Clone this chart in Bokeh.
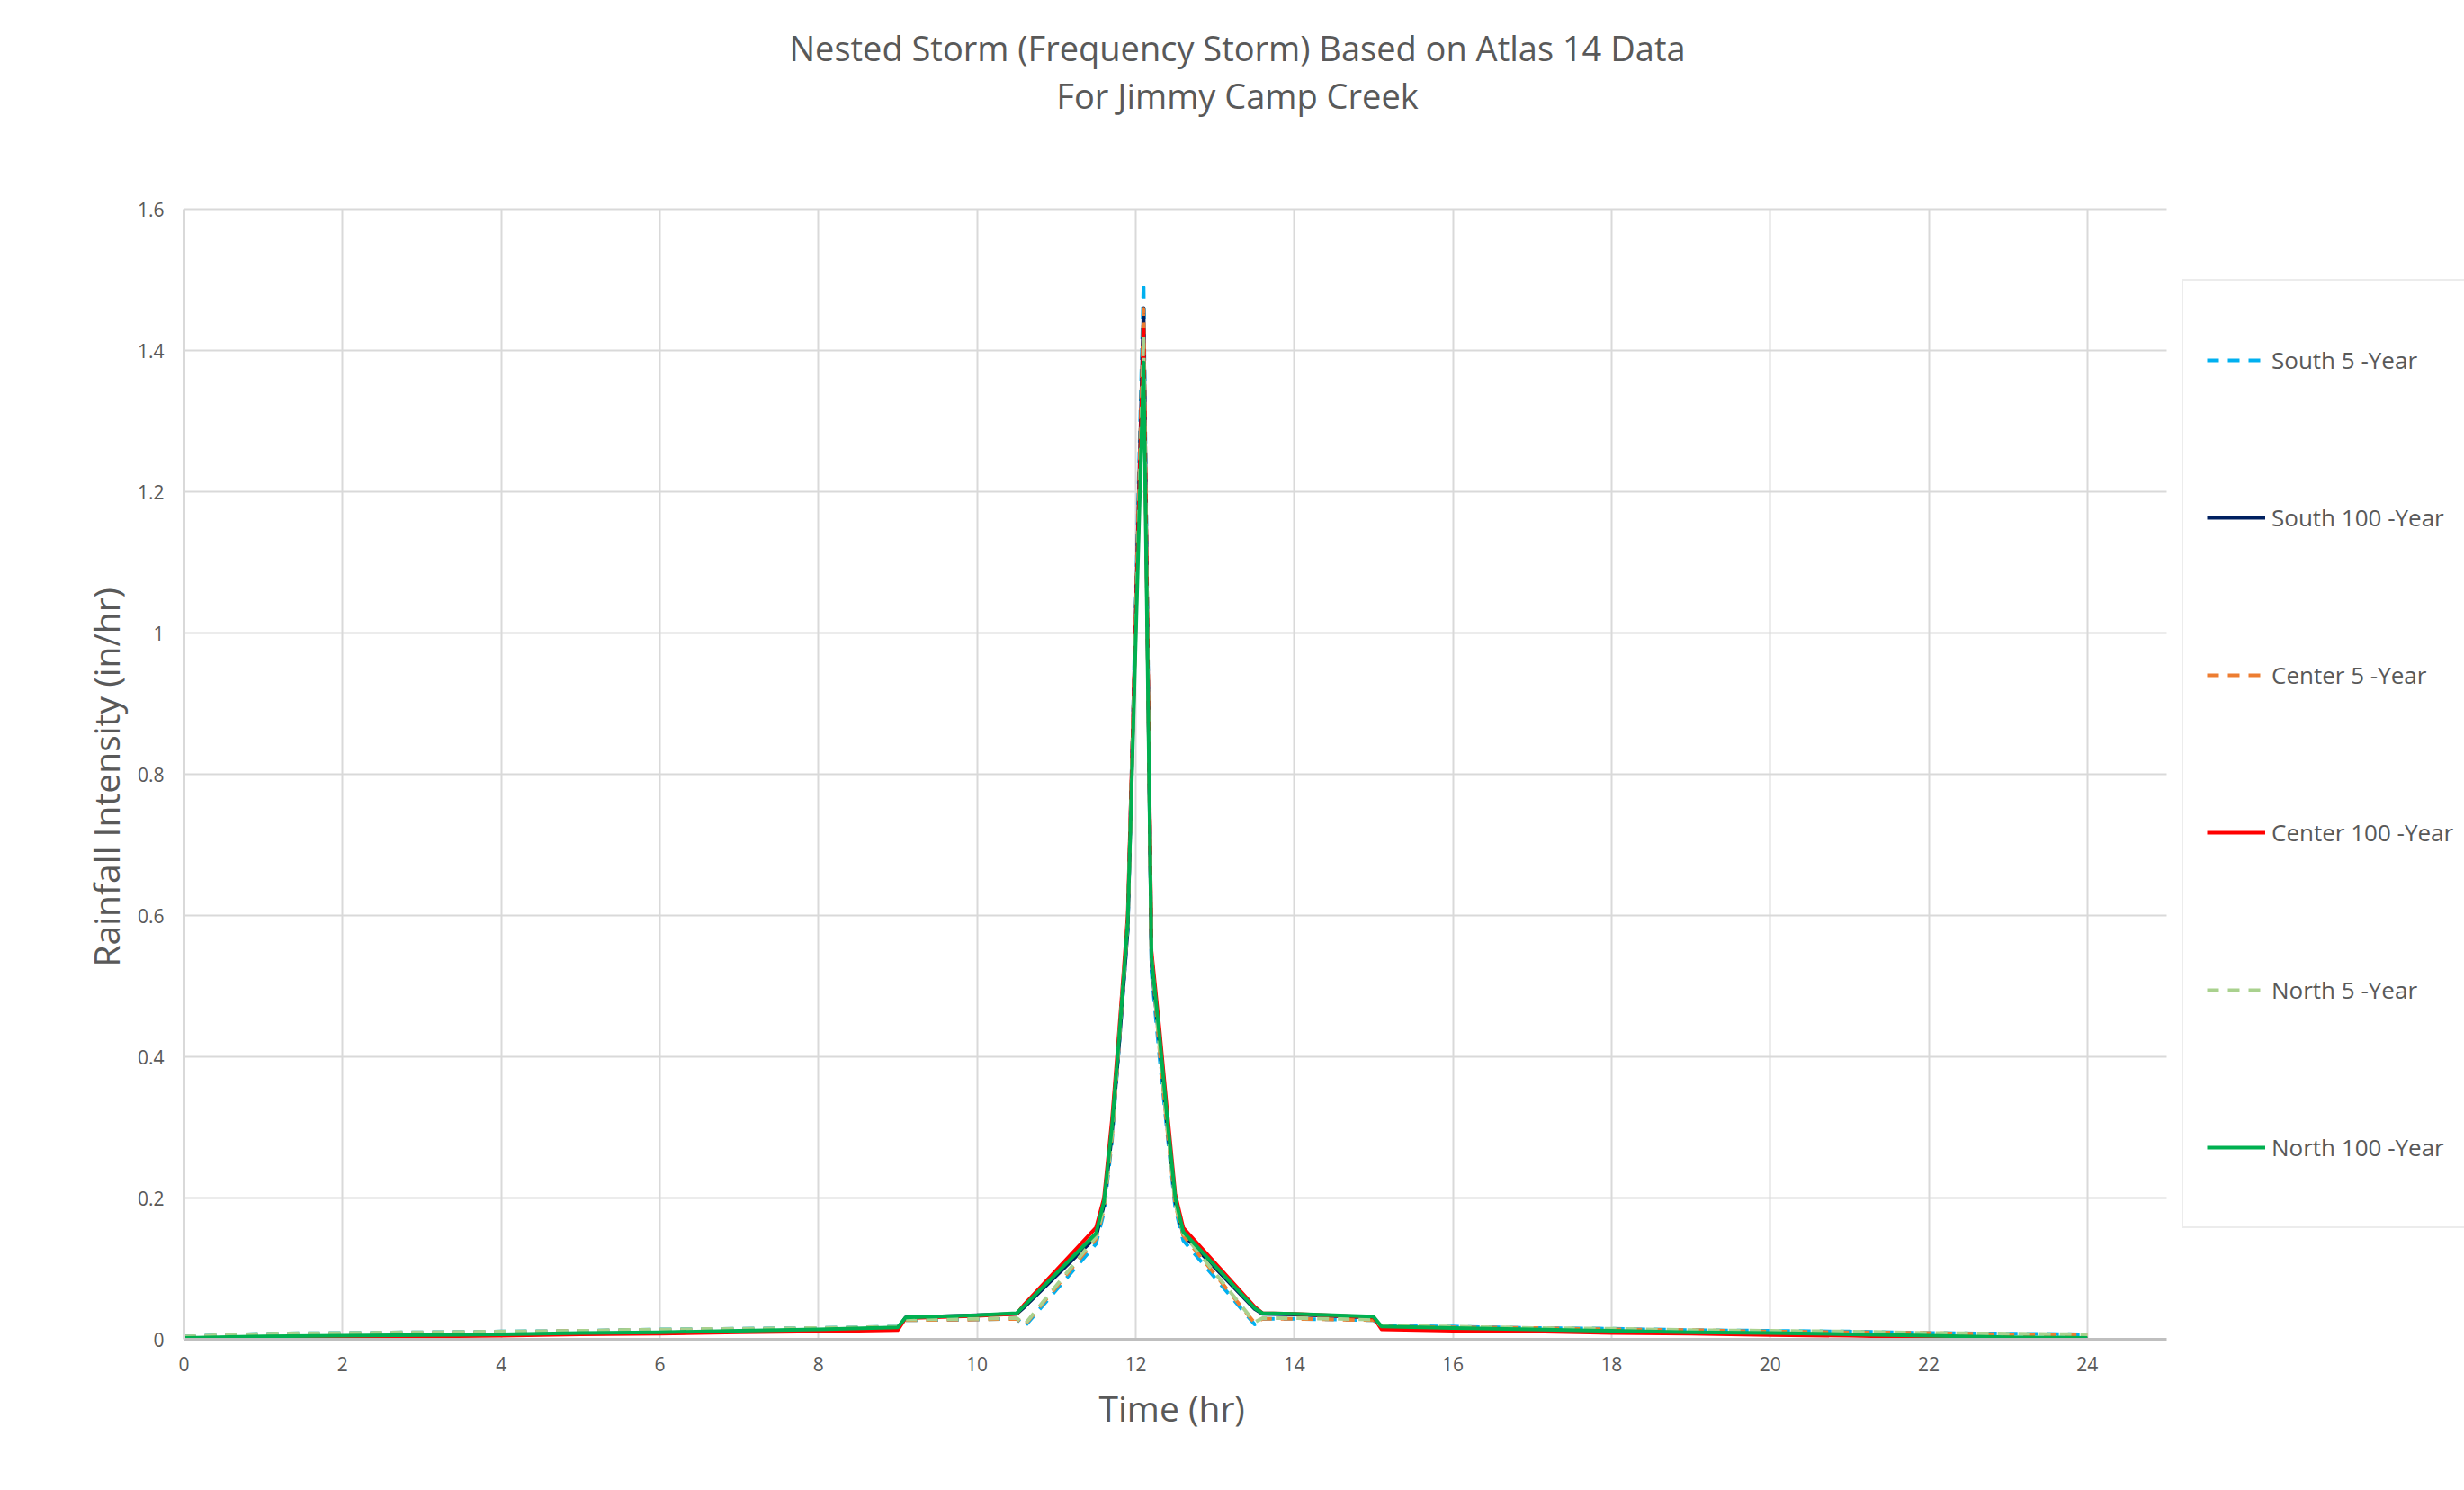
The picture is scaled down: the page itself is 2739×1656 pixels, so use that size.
from bokeh.plotting import figure
from bokeh.models import Range1d, FixedTicker, Legend, LegendItem, Label, Title
from bokeh.embed import file_html
from bokeh.resources import INLINE

# ---- data ----
time_hr = [0, 1, 2, 3, 4, 5, 6, 7, 8, 9, 9.1, 10, 10.5, 10.6, 11.5, 11.6, 11.7, 11.8, 11.9,
           12.1, 12.2, 12.3, 12.4, 12.5, 12.6, 13.5, 13.6, 14, 15, 15.1, 16, 17, 18, 19, 20,
           21, 22, 23, 24]

south_5 = [0.004, 0.008, 0.009, 0.010, 0.011, 0.012, 0.014, 0.015, 0.016, 0.018, 0.027, 0.028,
           0.029, 0.018, 0.135, 0.180, 0.280, 0.430, 0.580, 1.497, 0.520, 0.400, 0.290, 0.185,
           0.140, 0.021, 0.029, 0.029, 0.027, 0.019, 0.018, 0.016, 0.015, 0.013, 0.012, 0.011,
           0.009, 0.008, 0.007]
south_100 = [0.001, 0.003, 0.004, 0.005, 0.006, 0.008, 0.009, 0.011, 0.013, 0.015, 0.031, 0.034,
             0.036, 0.046, 0.145, 0.190, 0.290, 0.430, 0.580, 1.460, 0.530, 0.420, 0.300, 0.195,
             0.148, 0.043, 0.036, 0.035, 0.031, 0.016, 0.014, 0.013, 0.011, 0.009, 0.008, 0.006,
             0.004, 0.002, 0.001]
center_5 = [0.003, 0.007, 0.008, 0.009, 0.010, 0.012, 0.013, 0.014, 0.015, 0.017, 0.027, 0.028,
            0.029, 0.020, 0.142, 0.185, 0.285, 0.435, 0.590, 1.459, 0.545, 0.410, 0.295, 0.190,
            0.147, 0.023, 0.029, 0.029, 0.027, 0.018, 0.017, 0.016, 0.014, 0.013, 0.011, 0.010,
            0.009, 0.007, 0.006]
center_100 = [0.000, 0.002, 0.003, 0.004, 0.005, 0.007, 0.008, 0.010, 0.011, 0.013, 0.030, 0.033,
              0.036, 0.050, 0.158, 0.200, 0.310, 0.450, 0.600, 1.430, 0.550, 0.440, 0.320, 0.205,
              0.158, 0.046, 0.037, 0.036, 0.031, 0.014, 0.012, 0.011, 0.009, 0.008, 0.006, 0.005,
              0.003, 0.001, 0.000]
north_5 = [0.004, 0.008, 0.009, 0.010, 0.011, 0.012, 0.014, 0.015, 0.016, 0.018, 0.028, 0.029,
           0.030, 0.021, 0.145, 0.188, 0.290, 0.440, 0.590, 1.420, 0.540, 0.415, 0.300, 0.192,
           0.150, 0.024, 0.030, 0.030, 0.028, 0.019, 0.018, 0.016, 0.015, 0.013, 0.012, 0.011,
           0.009, 0.008, 0.007]
north_100 = [0.002, 0.004, 0.005, 0.006, 0.007, 0.009, 0.010, 0.012, 0.014, 0.017, 0.031, 0.034,
             0.037, 0.048, 0.150, 0.195, 0.300, 0.440, 0.590, 1.383, 0.540, 0.430, 0.310, 0.200,
             0.152, 0.044, 0.037, 0.036, 0.032, 0.018, 0.016, 0.014, 0.012, 0.010, 0.009, 0.007,
             0.005, 0.003, 0.002]

series_names = ["South 5 -Year", "South 100 -Year", "Center 5 -Year",
                "Center 100 -Year", "North 5 -Year", "North 100 -Year"]
series_values = [south_5, south_100, center_5, center_100, north_5, north_100]
series_colors = ["#00B0F0", "#002060", "#ED7D31", "#FF0000", "#A9D18E", "#00B050"]
series_dashed = [True, False, True, False, True, False]

x_min, x_max = 0, 25
y_min, y_max = 0, 1.6
x_ticks = [0, 2, 4, 6, 8, 10, 12, 14, 16, 18, 20, 22, 24]
y_ticks = [0, 0.2, 0.4, 0.6, 0.8, 1.0, 1.2, 1.4, 1.6]
y_tick_labels = ["0", "0.2", "0.4", "0.6", "0.8", "1", "1.2", "1.4", "1.6"]

title_line1 = "Nested Storm (Frequency Storm) Based on Atlas 14 Data"
title_line2 = "For Jimmy Camp Creek"
x_title = "Time (hr)"
y_title = "Rainfall Intensity (in/hr)"

# ---- layout in pixels ----
W, H = 2739, 1656
PL, PR, PT, PB = 204, 2408, 232, 1488      # plot area of the axes
GRID = "#D9D9D9"
TXT = "#595959"
FONT = "Open Sans"

# the drawing frame spans to the right and top edges of the canvas so that the
# title and the legend (which sit outside the axes area) are not clipped
px_x = (PR - PL) / (x_max - x_min)
px_y = (PB - PT) / (y_max - y_min)
xr_end = x_min + (W - PL) / px_x
yr_end = y_min + PB / px_y

p = figure(width=W, height=H, output_backend="svg", toolbar_location=None,
           title=None,
           x_range=Range1d(x_min, xr_end), y_range=Range1d(y_min, yr_end),
           min_border_left=PL, min_border_right=0,
           min_border_top=0, min_border_bottom=H - PB)
p.outline_line_color = None
p.background_fill_color = "white"
p.border_fill_color = "white"

p.xaxis.ticker = FixedTicker(ticks=x_ticks)
p.yaxis.ticker = FixedTicker(ticks=y_ticks)
p.yaxis.major_label_overrides = dict(zip(y_ticks, y_tick_labels))
p.xaxis.bounds = (x_min, x_max)
p.yaxis.bounds = (y_min, y_max)
for ax in (p.xaxis, p.yaxis):
    ax.major_tick_line_color = None
    ax.minor_tick_line_color = None
    ax.major_tick_out = 0
    ax.major_label_text_font = FONT
    ax.major_label_text_font_size = "21px"
    ax.major_label_text_color = TXT
p.yaxis.axis_line_color = GRID
p.yaxis.axis_line_width = 3
p.yaxis.major_label_standoff = 22
p.xaxis.axis_line_color = "#BFBFBF"
p.xaxis.axis_line_width = 3
p.xaxis.major_label_standoff = 19

p.xgrid.grid_line_color = GRID
p.xgrid.grid_line_width = 2
p.xgrid.cross_bounds = (y_min, y_max)
p.ygrid.grid_line_color = GRID
p.ygrid.grid_line_width = 2
p.ygrid.cross_bounds = (x_min, x_max)

items = []
for name, vals, col, dashed in zip(series_names, series_values, series_colors, series_dashed):
    r = p.line(time_hr, vals, line_color=col, line_width=4,
               line_dash="13 10" if dashed else "solid", line_join="round")
    items.append(LegendItem(label=name, renderers=[r]))

legend = Legend(items=items, location=(2425 - PL, PB - 1365),
                orientation="vertical",
                border_line_color=GRID, border_line_width=2,
                background_fill_color="white", background_fill_alpha=1.0,
                padding=26, spacing=51, label_height=124, glyph_height=20,
                glyph_width=65, label_standoff=7, margin=0,
                label_text_font=FONT, label_text_font_size="26px",
                label_text_color=TXT)
p.add_layout(legend, "center")


def dx(px):
    return x_min + (px - PL) / px_x


def dy(py):
    return y_min + (PB - py) / px_y


p.add_layout(Label(x=dx(1375), y=dy(52), text=title_line1, text_align="center",
                   text_baseline="middle", text_font=FONT, text_font_size="38px",
                   text_color=TXT))
p.add_layout(Label(x=dx(1375), y=dy(105), text=title_line2, text_align="center",
                   text_baseline="middle", text_font=FONT, text_font_size="38px",
                   text_color=TXT))

# axis titles as side-panel titles (placed along the axes area, not the whole frame)
p.add_layout(Title(text=x_title, align="left", offset=1221 - PL, standoff=19,
                   text_font=FONT, text_font_size="39px", text_font_style="normal",
                   text_color=TXT), "below")
p.add_layout(Title(text=y_title, align="left", offset=PB - 1074, standoff=12,
                   text_font=FONT, text_font_size="39px", text_font_style="normal",
                   text_color=TXT), "left")

open("out.html", "w").write(file_html(p, INLINE))
